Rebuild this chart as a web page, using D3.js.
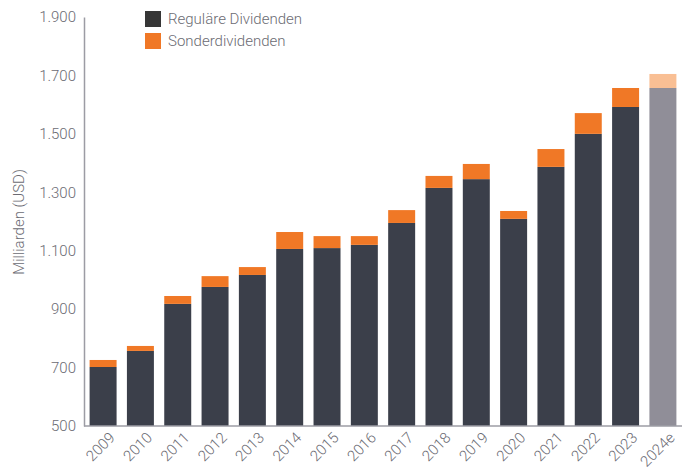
<!DOCTYPE html>
<html><head><meta charset="utf-8">
<script src="https://cdn.jsdelivr.net/npm/d3@7"></script>
<style>body{margin:0;background:#fff}svg text{font-family:Roboto,"Noto Sans",sans-serif;font-weight:300;fill:#6b6b73}</style>
</head><body><svg id="c" width="688" height="470"></svg>
<script>
const years = ["2009","2010","2011","2012","2013","2014","2015","2016","2017","2018","2019","2020","2021","2022","2023","2024e"];
const regular = [702,757,918,976,1017,1106,1109,1120,1195,1315,1345,1209,1387,1500,1592,1657];
const special = [24,17,27,37,27,58,41,30,44,41,52,27,61,71,65,48];
const yTicks = [500,700,900,1100,1300,1500,1700,1900];
const seriesNames = ["Reguläre Dividenden","Sonderdividenden"];

const svg = d3.select("#c");
const x = d3.scaleBand().domain(years).range([84,682]).paddingInner(0.277).paddingOuter(0.15);
const y = d3.scaleLinear().domain([500,1900]).range([426,17]);
const fmt = v => d3.format(",")(v).replace(/,/g,".");

const regCol = (d,i)=> years[i]==="2024e" ? "#908e98" : "#3b3f4a";
const spCol = (d,i)=> years[i]==="2024e" ? "#f9bf94" : "#f07826";

svg.append("g").selectAll("rect").data(regular).join("rect")
  .attr("x",(d,i)=>x(years[i])).attr("width",x.bandwidth())
  .attr("y",d=>y(d)).attr("height",d=>y(500)-y(d)).attr("fill",regCol);
svg.append("g").selectAll("rect").data(special).join("rect")
  .attr("x",(d,i)=>x(years[i])).attr("width",x.bandwidth())
  .attr("y",(d,i)=>y(regular[i]+d)).attr("height",(d,i)=>y(regular[i])-y(regular[i]+d)).attr("fill",spCol);

// y axis
const ya = svg.append("g").attr("transform","translate(84,0)")
  .call(d3.axisLeft(y).tickValues(yTicks).tickFormat(fmt).tickSize(0).tickPadding(8));
ya.select(".domain").attr("stroke","#9c9ca4").attr("stroke-width",1.5);
ya.selectAll("text").attr("font-size",15).style("font-family","Roboto");

// x axis
const xa = svg.append("g").attr("transform","translate(0,426)")
  .call(d3.axisBottom(x).tickSize(0).tickPadding(0));
xa.select(".domain").attr("stroke","#9c9ca4").attr("stroke-width",1.5).attr("d","M84,0H682");
xa.selectAll("text").attr("font-size",15).style("font-family","Roboto")
  .attr("text-anchor","end").attr("dy","0.35em")
  .attr("transform","translate(9,9) rotate(-45)");

// y label
svg.append("text").attr("transform","translate(24,222) rotate(-90)")
  .attr("text-anchor","middle").attr("font-size",15).text("Milliarden (USD)");

// legend
const lg = svg.append("g").attr("transform","translate(145,11)");
const lcol = ["#363636","#f07826"];
seriesNames.forEach((n,i)=>{
  lg.append("rect").attr("x",0).attr("y",i*22).attr("width",16).attr("height",16).attr("fill",lcol[i]);
  lg.append("text").attr("x",23).attr("y",i*22+8).attr("dy","0.35em").attr("font-size",15).text(n);
});
</script></body></html>
